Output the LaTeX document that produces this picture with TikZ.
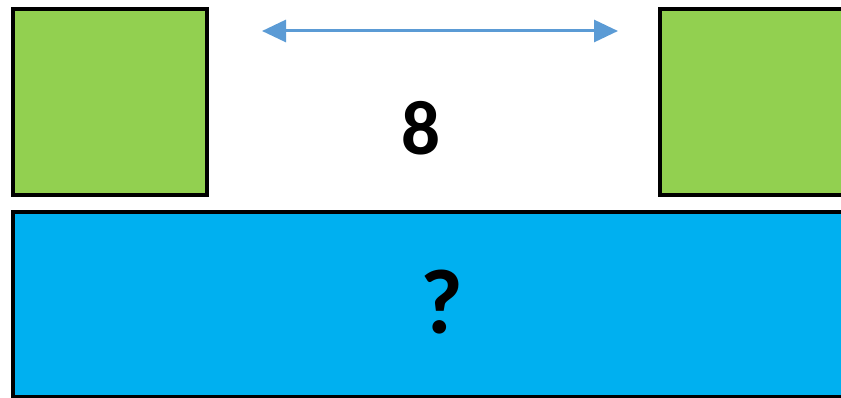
\documentclass[tikz,border=0pt]{standalone}
\usepackage{fontspec}
\setmainfont{Carlito}
\usetikzlibrary{arrows.meta}
\begin{document}
\begin{tikzpicture}[x=1pt, y=-1pt,
    block/.style={rectangle, draw=black, line width=4pt, inner sep=0pt},
    dimarrow/.style={gaparrow, line width=3pt,
        {Triangle[length=24pt, width=22pt]}-{Triangle[length=24pt, width=22pt]}}]
    \definecolor{blockgreen}{HTML}{92D050}
    \definecolor{blockblue}{HTML}{00B0F0}
    \definecolor{gaparrow}{HTML}{5B9BD5}

    \useasboundingbox (0,0) rectangle (841,398);
    \clip (0,0) rectangle (841,398);

    % the two green blocks on top
    \node[block, fill=blockgreen, minimum width=194pt, minimum height=186pt] (left)  at (110,102) {};
    \node[block, fill=blockgreen, minimum width=194pt, minimum height=186pt] (right) at (757,102) {};
    % the blue bar below
    \node[block, fill=blockblue, minimum width=847pt, minimum height=185pt] (bar) at (436.5,304.5) {};

    % width of the gap
    \coordinate (gapl) at (262,31);
    \coordinate (gapr) at (618,31);
    \draw[dimarrow] (gapl) -- (gapr);
    \node[font=\fontsize{77}{77}\selectfont\bfseries, inner sep=0pt] (gaplen) at (421,128) {8};

    % unknown length of the bar
    \node[font=\fontsize{92}{92}\selectfont\bfseries, inner sep=0pt] (barlen) at (442,302) {?};
\end{tikzpicture}
\end{document}
